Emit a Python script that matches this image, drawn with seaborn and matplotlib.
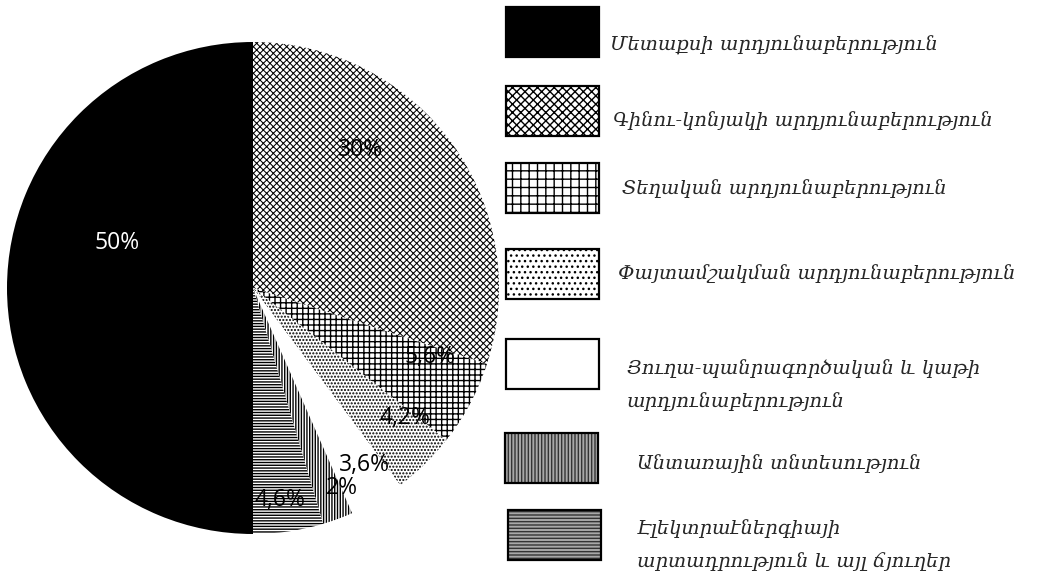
import matplotlib
matplotlib.use("Agg")
import matplotlib.pyplot as plt
from matplotlib.patches import Rectangle
import seaborn as sns

# Industry shares (%)
industries = [
    "Մետաքսի արդյունաբերություն",
    "Գինու-կոնյակի արդյունաբերություն",
    "Տեղական արդյունաբերություն",
    "Փայտամշակման արդյունաբերություն",
    "Յուղա-պանրագործական և կաթի\nարդյունաբերություն",
    "Անտառային տնտեսություն",
    "Էլեկտրաէներգիայի\nարտադրություն և այլ ճյուղեր",
]
shares = [50, 30, 5.6, 4.2, 3.6, 2, 4.6]
share_labels = [f"{v:g}%".replace(".", ",") for v in shares]

# Fill styles per slice
faces = ["black", "white", "white", "white", "white", "white", "white"]
hatches = [None, "x" * 5, "+++", ".....", None, "||||||", "------"]
hatch_lw = [1.0, 0.75, 1.0, 1.0, 1.0, 1.0, 1.0]

# Label anchors in pie units (x, y), and colours
label_pos = [(-0.553, 0.183), (0.435, 0.561), (0.72, -0.28), (0.618, -0.53),
             (0.455, -0.72), (0.36, -0.815), (0.11, -0.862)]
label_col = ["white", "black", "black", "black", "black", "black", "black"]

sns.set_theme(style="white")

W, H, DPI = 1052, 578, 100
fig = plt.figure(figsize=(W / DPI, H / DPI), dpi=DPI)
fig.patch.set_facecolor("white")

# Pie axes: center at (253, 288) px, radius 246 px
cx, cy, r = 253, 288, 246
ax = fig.add_axes([(cx - r) / W, (H - cy - r) / H, 2 * r / W, 2 * r / H])
with plt.rc_context({"hatch.linewidth": 1.0}):
    wedges, _ = ax.pie(shares, startangle=-90, counterclock=False, radius=1.0,
                       wedgeprops=dict(linewidth=0))
    for w, fc, h, hl in zip(wedges, faces, hatches, hatch_lw):
        w.set_facecolor(fc)
        w.set_edgecolor("black")
        w.set_linewidth(0)
        if h:
            w.set_hatch(h)
            if hasattr(w, "set_hatch_linewidth"):
                w.set_hatch_linewidth(hl)
ax.set_xlim(-1, 1)
ax.set_ylim(-1, 1)
ax.set_aspect("equal")
ax.axis("off")

for txt, (x, y), c in zip(share_labels, label_pos, label_col):
    ax.text(x, y, txt, ha="center", va="center", color=c,
            fontsize=16.5, family=["Open Sans", "DejaVu Sans"])

# Legend drawn on a pixel-space overlay
lg = fig.add_axes([0, 0, 1, 1])
lg.set_xlim(0, W)
lg.set_ylim(H, 0)
lg.axis("off")
lg.patch.set_alpha(0)

boxes = [(506, 7), (506, 86), (506, 163), (506, 249), (506, 339), (505, 433), (508, 510)]
box_w, box_h = 93, 50
leg_faces = ["black", "white", "white", "white", "white", "#a8a8a8", "#a8a8a8"]
leg_hatch = [None, "xxxx", "++", "...", None, "|||||", "-----"]
leg_hcol = ["black", "black", "black", "black", "black", "#333333", "#333333"]
text_pos = [(610, 45), (613, 121), (622, 189), (618, 274), (627, 385), (637, 464), (637, 545)]

with plt.rc_context({"hatch.linewidth": 1.0}):
    for (x0, y0), fc, h, hc in zip(boxes, leg_faces, leg_hatch, leg_hcol):
        lg.add_patch(Rectangle((x0, y0), box_w, box_h, facecolor=fc, edgecolor=hc,
                               hatch=h, linewidth=0))
        lg.add_patch(Rectangle((x0, y0), box_w, box_h, facecolor="none",
                               edgecolor="black", linewidth=1.6))

for name, (tx, ty) in zip(industries, text_pos):
    lg.text(tx, ty, name, ha="left", va="center", fontsize=14,
            style="italic", linespacing=2.0,
            family=["DejaVu Serif", "DejaVu Sans"])

fig.savefig("out.png", dpi=DPI, facecolor="white")
